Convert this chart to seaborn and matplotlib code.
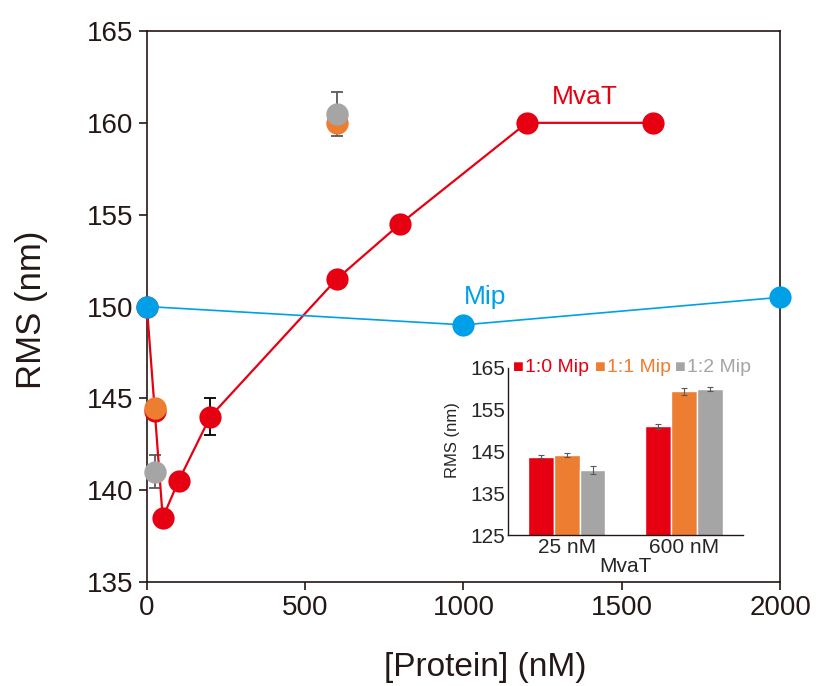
import numpy as np
import pandas as pd
import seaborn as sns
import matplotlib.pyplot as plt

# main panel data
mvat_x = [0, 25, 50, 100, 200, 600, 800, 1200, 1600]
mvat_y = [150, 144.3, 138.5, 140.5, 144.0, 151.5, 154.5, 160.0, 160.0]
mip_x = [0, 1000, 2000]
mip_y = [150.0, 149.0, 150.5]
mix11_x = [25, 600]
mix11_y = [144.5, 160.0]
mix12_x = [25, 600]
mix12_y = [141.0, 160.5]
mix12_err = [0.9, 1.2]
mvat_err_x = [200]
mvat_err_y = [144.0]
mvat_err = [1.0]

# inset data
groups = ['25 nM', '600 nM']
ratios = ['1:0 Mip', '1:1 Mip', '1:2 Mip']
inset_vals = [[143.8, 144.1, 140.6], [151.0, 159.4, 160.0]]
inset_errs = [[0.4, 0.5, 1.0], [0.5, 0.8, 0.4]]

red = '#E60012'
orange = '#ED7D31'
gray = '#A5A5A5'
blue = '#00A0E9'

sns.set_style('ticks')
plt.rcParams['font.family'] = ['Liberation Sans', 'DejaVu Sans']

fig = plt.figure(figsize=(8.16, 6.86), dpi=100)
ax = fig.add_axes([0.180, 0.1516, 0.776, 0.8032])

sns.lineplot(x=mvat_x, y=mvat_y, color=red, linewidth=1.6, marker='o', markersize=16,
             markeredgewidth=0, ax=ax, clip_on=False, zorder=3)
ax.errorbar(mvat_err_x, mvat_err_y, yerr=mvat_err, fmt='none', ecolor='black',
            elinewidth=1.3, capsize=4, capthick=1.3, zorder=2)
sns.lineplot(x=mip_x, y=mip_y, color=blue, linewidth=1.2, marker='o', markersize=16,
             markeredgewidth=0, ax=ax, clip_on=False, zorder=4)
ax.errorbar(mix12_x, mix12_y, yerr=mix12_err, fmt='none', ecolor='#595959',
            elinewidth=1.3, capsize=4, capthick=1.3, zorder=2)
sns.scatterplot(x=mix11_x, y=mix11_y, color=orange, s=260, linewidth=0, ax=ax, zorder=5, clip_on=False)
sns.scatterplot(x=mix12_x, y=mix12_y, color=gray, s=260, linewidth=0, ax=ax, zorder=6, clip_on=False)

ax.set_xlim(0, 2000)
ax.set_ylim(135, 165)
ax.set_xticks([0, 500, 1000, 1500, 2000])
ax.set_yticks([135, 140, 145, 150, 155, 160, 165])
ax.tick_params(labelsize=20, direction='out', length=6, width=1.2, colors='#231815')
for s in ax.spines.values():
    s.set_linewidth(1.2)
    s.set_color('#231815')
ax.set_xlabel('[Protein] (nM)', fontsize=24, color='#231815', va='center')
ax.xaxis.set_label_coords(0.534, -0.156)
ax.set_ylabel('RMS (nm)', fontsize=25, color='#231815', va='center')
ax.yaxis.set_label_coords(-0.182, 0.494)
ax.text(1384, 161.4, 'MvaT', color=red, fontsize=19, ha='center', va='center')
ax.text(1068, 150.5, 'Mip', color=blue, fontsize=19, ha='center', va='center')

# inset bar chart
df = pd.DataFrame([(g, r, inset_vals[i][j]) for i, g in enumerate(groups) for j, r in enumerate(ratios)],
                  columns=['group', 'ratio', 'rms'])
ins = fig.add_axes([0.6225, 0.2201, 0.288, 0.2435])
sns.barplot(data=df, x='group', y='rms', hue='ratio', palette=[red, orange, gray], saturation=1,
            width=0.66, edgecolor='white', linewidth=1, ax=ins, legend=False)
nb = len(ratios)
for i in range(len(groups)):
    for j in range(nb):
        xc = i - 0.33 + 0.22 * (j + 0.5)
        ins.errorbar(xc, inset_vals[i][j], yerr=inset_errs[i][j], fmt='none', ecolor='#595959',
                     elinewidth=0.8, capsize=2, capthick=0.8)
ins.set_ylim(125, 165)
ins.set_xlim(-0.5, 1.5)
ins.set_yticks([125, 135, 145, 155, 165])
ins.tick_params(length=0, labelsize=15, pad=2)
ins.set_facecolor('none')
sns.despine(ax=ins)
for s in ['left', 'bottom']:
    ins.spines[s].set_linewidth(1.0)
    ins.spines[s].set_color('#231815')
ins.set_xlabel('MvaT', fontsize=15, va='center')
ins.xaxis.set_label_coords(0.5, -0.19)
ins.set_ylabel('RMS (nm)', fontsize=12, va='center')
ins.yaxis.set_label_coords(-0.235, 0.57)

sq_x = [0.021, 0.37, 0.71]
tx_x = [0.072, 0.42, 0.76]
for j, r in enumerate(ratios):
    c = [red, orange, gray][j]
    ins.text(sq_x[j], 1.0, '\u25a0', color=c, fontsize=13, transform=ins.transAxes, va='center', ha='left')
    ins.text(tx_x[j], 1.0, r, color=c, fontsize=14, transform=ins.transAxes, va='center', ha='left')

fig.savefig('out.png', dpi=100)
